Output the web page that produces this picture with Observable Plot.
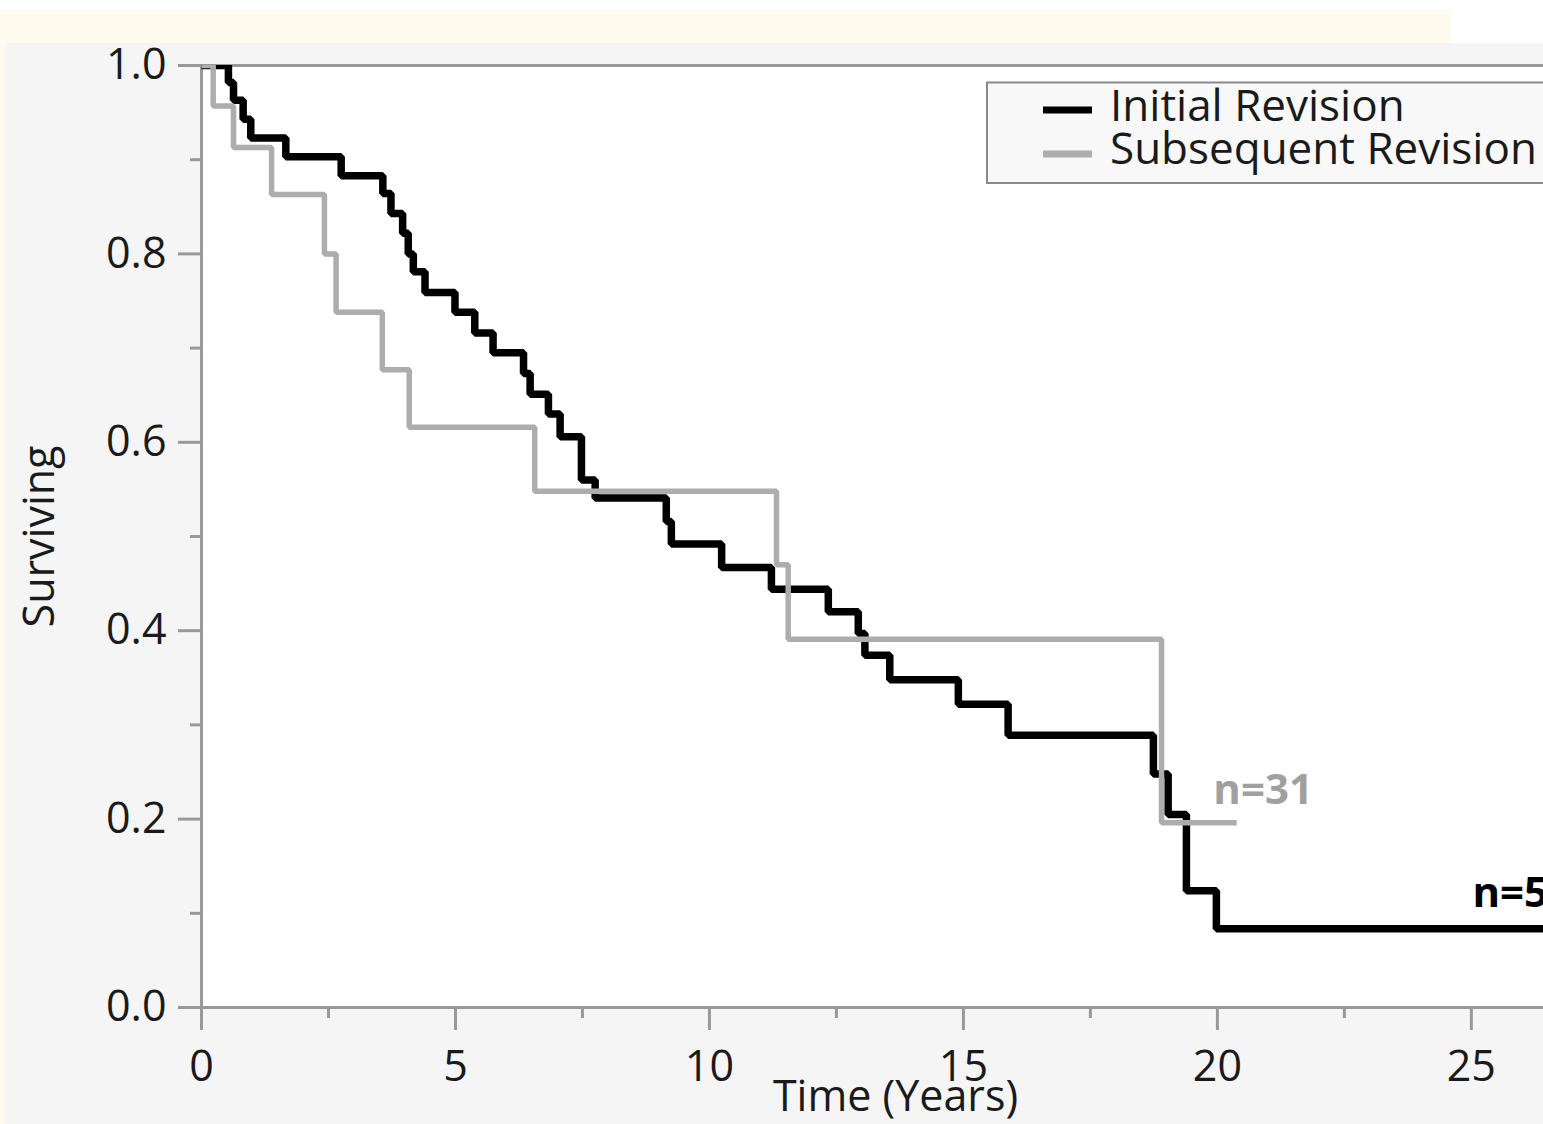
<!DOCTYPE html>
<html>
<head>
<meta charset="utf-8">
<script src="https://cdn.jsdelivr.net/npm/d3@7"></script>
<script src="https://cdn.jsdelivr.net/npm/@observablehq/plot@0.6"></script>
<style>
  html, body { margin: 0; padding: 0; width: 1543px; height: 1124px; overflow: hidden; background: #ffffff; }
  #yellow { position: absolute; left: 0; top: 10px; width: 1450px; height: 1114px; background: #fffaee; }
  #panel { position: absolute; left: 5px; top: 43px; right: 0; bottom: 0; background: #f5f5f5; }
  #chart { position: absolute; left: 0; top: 0; }
  #legend { position: absolute; left: 0; top: 0; pointer-events: none; }
</style>
</head>
<body>
<div id="yellow"></div>
<div id="panel"></div>
<div id="chart"></div>
<svg id="legend" width="1543" height="200"></svg>
<script>
// ---- data ----
const seriesNames = ["Initial Revision", "Subsequent Revision"];

const initialTime = [0, 0.53, 0.63, 0.82, 0.97, 1.66, 2.75, 3.57, 3.73, 3.96, 4.07, 4.17, 4.40, 4.99, 5.38, 5.74, 6.34, 6.47, 6.83, 7.06, 7.48, 7.75, 9.15, 9.25, 10.24, 11.22, 12.34, 12.93, 13.06, 13.55, 14.90, 15.88, 18.74, 19.03, 19.39, 19.98, 27];
const initialSurv = [1.0, 0.982, 0.963, 0.943, 0.923, 0.903, 0.883, 0.864, 0.843, 0.822, 0.800, 0.781, 0.759, 0.738, 0.716, 0.695, 0.673, 0.651, 0.630, 0.606, 0.560, 0.541, 0.516, 0.492, 0.467, 0.444, 0.420, 0.397, 0.374, 0.348, 0.322, 0.289, 0.248, 0.205, 0.124, 0.0835, 0.0835];

const subsequentTime = [0, 0.23, 0.63, 1.38, 2.42, 2.65, 3.56, 4.09, 6.56, 11.32, 11.55, 18.90, 20.38];
const subsequentSurv = [1.0, 0.957, 0.913, 0.863, 0.800, 0.738, 0.677, 0.616, 0.548, 0.470, 0.391, 0.196, 0.196];

const nLabels = ["n=31", "n=5"];
const nLabelTime = [19.92, 25.02];
const nLabelSurv = [0.230, 0.121];

const xMajorTicks = [0, 5, 10, 15, 20, 25];
const xMinorTicks = [2.5, 7.5, 12.5, 17.5, 22.5];
const yMajorTicks = [0, 0.2, 0.4, 0.6, 0.8, 1.0];
const yMinorTicks = [0.1, 0.3, 0.5, 0.7, 0.9];

const xLabel = "Time (Years)";
const yLabel = "Surviving";

// ---- build tables ----
const initial = initialTime.map((t, i) => ({t, s: initialSurv[i]}));
const subsequent = subsequentTime.map((t, i) => ({t, s: subsequentSurv[i]}));
const notes = nLabels.map((label, i) => ({label, t: nLabelTime[i], s: nLabelSurv[i], series: i}));

const axisColor = "#999999";
const textColor = "#1a1a1a";
const greyLine = "#adadad";
const font = "'Open Sans', 'Noto Sans', sans-serif";

const chart = Plot.plot({
  width: 1543,
  height: 1124,
  marginLeft: 201,
  marginRight: 0,
  marginTop: 65,
  marginBottom: 117,
  x: {domain: [0, 26.42]},
  y: {domain: [0, 1]},
  style: {fontFamily: font, background: "transparent", color: textColor},
  marks: [
    Plot.frame({fill: "white", stroke: "none"}),
    Plot.ruleY([1], {stroke: axisColor, strokeWidth: 3}),
    Plot.ruleY([0], {stroke: axisColor, strokeWidth: 3}),
    Plot.ruleX([0], {stroke: axisColor, strokeWidth: 3}),
    Plot.axisY(yMinorTicks, {tickSize: 11, tickFormat: () => "", stroke: axisColor, strokeWidth: 3, label: null}),
    Plot.axisY(yMajorTicks, {tickSize: 23, tickPadding: 12, tickFormat: d3.format(".1f"), fontSize: 43, fill: textColor, stroke: axisColor, strokeWidth: 3, label: null}),
    Plot.axisX(xMinorTicks, {tickSize: 11, tickFormat: () => "", stroke: axisColor, strokeWidth: 3, label: null}),
    Plot.axisX(xMajorTicks, {tickSize: 23, tickPadding: 20, tickFormat: d3.format("d"), fontSize: 43, fill: textColor, stroke: axisColor, strokeWidth: 3, label: null}),
    Plot.line(initial, {x: "t", y: "s", curve: "step-after", stroke: "#000000", strokeWidth: 7.5, strokeLinejoin: "miter", strokeLinecap: "butt", clip: true}),
    Plot.line(subsequent, {x: "t", y: "s", curve: "step-after", stroke: greyLine, strokeWidth: 5.5, strokeLinejoin: "miter", strokeLinecap: "butt", clip: true}),
    Plot.text(notes, {x: "t", y: "s", text: "label", textAnchor: "start", lineAnchor: "middle", fontSize: 42, fontWeight: "bold", fill: d => d.series === 0 ? "#a0a0a0" : "#000000"}),
    Plot.text([yLabel], {frameAnchor: "left", rotate: -90, dx: -161, fontSize: 43, fill: textColor, textAnchor: "middle", lineAnchor: "middle"}),
    Plot.text([xLabel], {frameAnchor: "bottom", dx: 23, dy: 90, fontSize: 43, fill: textColor, textAnchor: "middle", lineAnchor: "middle"})
  ]
});
document.getElementById("chart").appendChild(chart);

// ---- legend (inside the plot, top right) ----
const legend = d3.select("#legend");
legend.append("rect")
  .attr("x", 987).attr("y", 82.5).attr("width", 700).attr("height", 100.5)
  .attr("fill", "#f8f8f8").attr("stroke", "#8a8a8a").attr("stroke-width", 2);
const swatchColors = ["#000000", greyLine];
seriesNames.forEach((name, i) => {
  const cy = 110 + i * 44;
  legend.append("line")
    .attr("x1", 1043).attr("x2", 1092).attr("y1", cy).attr("y2", cy)
    .attr("stroke", swatchColors[i]).attr("stroke-width", 7);
  legend.append("text")
    .attr("x", 1110).attr("y", 121 + i * 43)
    .attr("font-family", font).attr("font-size", 44).attr("fill", textColor)
    .text(name);
});
</script>
</body>
</html>
